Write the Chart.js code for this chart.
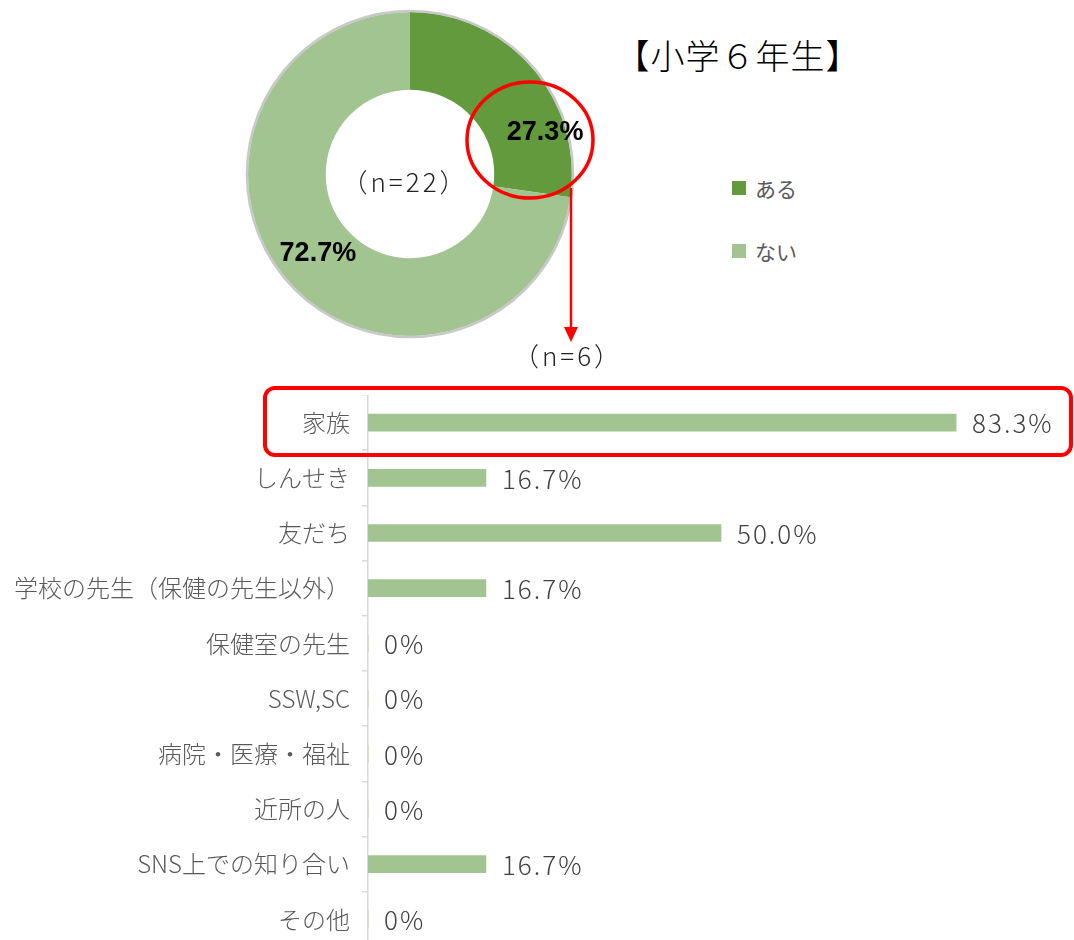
<!DOCTYPE html>
<html><head><meta charset="utf-8">
<script src="https://cdn.jsdelivr.net/npm/chart.js@4.4.1/dist/chart.umd.min.js"></script>
<style>
html,body{margin:0;padding:0;background:#fff;width:1074px;height:940px;overflow:hidden;position:relative;font-family:"Noto Sans CJK JP",sans-serif;}
#pie{position:absolute;left:230px;top:9px;}
#bar{position:absolute;left:0;top:395px;}
.txt{position:absolute;white-space:nowrap;line-height:1;}
#title{left:738px;top:55px;transform:translate(-50%,-50%);font-size:34px;font-weight:300;color:#000;letter-spacing:1px;}
#n22{left:405px;top:181px;transform:translate(-50%,-50%);font-size:26px;font-weight:300;color:#222;letter-spacing:3px;}
#n6{left:568px;top:355px;transform:translate(-50%,-50%);font-size:26px;font-weight:300;color:#222;letter-spacing:3px;}
#legend{position:absolute;left:732px;top:176px;}
.li{display:flex;align-items:center;height:24px;margin-bottom:39px;font-size:21px;color:#595959;}
.sw{width:14px;height:14px;margin-right:9px;}
svg{position:absolute;left:0;top:0;pointer-events:none;}
</style></head>
<body>
<canvas id="pie" width="360" height="330"></canvas>
<canvas id="bar" width="1074" height="552"></canvas>
<div id="title" class="txt">【小学６年生】</div>
<div id="n22" class="txt">（n=22）</div>
<div id="n6" class="txt">（n=6）</div>
<div id="legend"></div>
<svg width="1074" height="940">
  <ellipse cx="530" cy="140" rx="63" ry="58" fill="none" stroke="#FF0000" stroke-width="3.5"/>
  <line x1="571" y1="188" x2="571" y2="329" stroke="#FF0000" stroke-width="2.5"/>
  <polygon points="564,327 578,327 571,342" fill="#FF0000"/>
  <rect x="265" y="388" width="806" height="67" rx="10" ry="10" fill="none" stroke="#FF0000" stroke-width="4"/>
</svg>
<script>
const pieLabels = ['ある', 'ない'];
const pieValues = [27.3, 72.7];
const pieColors = ['#639A3E', '#A2C490'];

const barCategories = ['家族', 'しんせき', '友だち', '学校の先生（保健の先生以外）', '保健室の先生', 'SSW,SC', '病院・医療・福祉', '近所の人', 'SNS上での知り合い', 'その他'];
const barValues = [83.3, 16.7, 50.0, 16.7, 0, 0, 0, 0, 16.7, 0];
const barColor = '#A2C490';

const FONT = '"Noto Sans CJK JP", sans-serif';

// HTML legend from arrays
const lg = document.getElementById('legend');
pieLabels.forEach((l, i) => {
  const d = document.createElement('div'); d.className = 'li';
  const s = document.createElement('div'); s.className = 'sw'; s.style.background = pieColors[i];
  const t = document.createElement('span'); t.textContent = l;
  d.appendChild(s); d.appendChild(t); lg.appendChild(d);
});

const pieLabelOffsets = [[42, 39], [1, -1]];
const pieDecor = {
  id: 'pieDecor',
  afterDatasetsDraw(chart) {
    const ctx = chart.ctx;
    const meta = chart.getDatasetMeta(0);
    const a0 = meta.data[0];
    ctx.save();
    ctx.beginPath();
    ctx.arc(a0.x, a0.y, a0.outerRadius + 1, 0, Math.PI * 2);
    ctx.strokeStyle = '#C8C8C8';
    ctx.lineWidth = 2.5;
    ctx.stroke();
    ctx.font = 'bold 27px "Liberation Sans", Arial, sans-serif';
    ctx.fillStyle = '#000';
    ctx.textAlign = 'center';
    ctx.textBaseline = 'middle';
    meta.data.forEach((arc, i) => {
      const mid = (arc.startAngle + arc.endAngle) / 2;
      const r = (arc.innerRadius + arc.outerRadius) / 2;
      const x = arc.x + r * Math.cos(mid) + pieLabelOffsets[i][0];
      const y = arc.y + r * Math.sin(mid) + pieLabelOffsets[i][1];
      ctx.fillText(pieValues[i].toFixed(1) + '%', x, y);
    });
    ctx.restore();
  }
};

new Chart(document.getElementById('pie'), {
  type: 'doughnut',
  data: { labels: pieLabels, datasets: [{ data: pieValues, backgroundColor: pieColors, borderWidth: 0 }] },
  options: {
    responsive: false, animation: false,
    cutout: '52%',
    layout: { padding: { left: 18, right: 18, top: 3, bottom: 3 } },
    plugins: { legend: { display: false }, tooltip: { enabled: false } }
  },
  plugins: [pieDecor]
});

const fmt = v => v === 0 ? '0%' : v.toFixed(1) + '%';
const barLabels = {
  id: 'barLabels',
  afterDatasetsDraw(chart) {
    const ctx = chart.ctx;
    const meta = chart.getDatasetMeta(0);
    ctx.save();
    ctx.font = '300 26px ' + FONT;
    ctx.fillStyle = '#404040';
    ctx.textAlign = 'left';
    ctx.textBaseline = 'middle';
    if ('letterSpacing' in ctx) ctx.letterSpacing = '2px';
    meta.data.forEach((bar, i) => {
      ctx.fillText(fmt(barValues[i]), bar.x + 16, bar.y + 1);
    });
    ctx.restore();
  }
};

new Chart(document.getElementById('bar'), {
  type: 'bar',
  data: { labels: barCategories, datasets: [{ data: barValues, backgroundColor: barColor, barThickness: 17 }] },
  options: {
    indexAxis: 'y', responsive: false, animation: false,
    layout: { padding: 0 },
    scales: {
      x: { display: false, min: 0, max: 100 },
      y: {
        afterFit(s) { s.width = 368; s.paddingTop = 0; s.paddingBottom = 0; },
        border: { color: '#D9D9D9', width: 1.5 },
        grid: { drawOnChartArea: false, color: '#D9D9D9', tickLength: 6, offset: true, lineWidth: 1.5 },
        ticks: { color: '#595959', font: { size: 24, family: FONT, weight: '300' }, padding: 12 }
      }
    },
    plugins: { legend: { display: false }, tooltip: { enabled: false } }
  },
  plugins: [barLabels]
});
</script>
</body></html>
